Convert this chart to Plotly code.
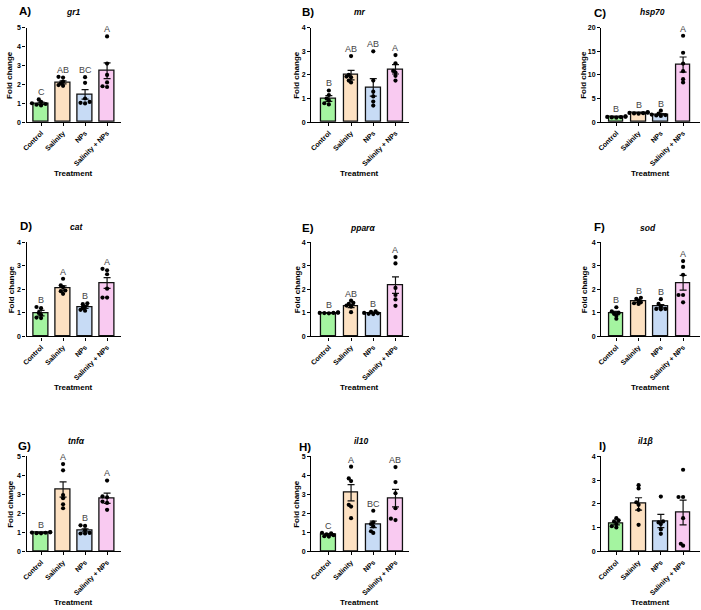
import plotly.graph_objects as go

W, H = 701, 610

categories = ["Control", "Salinity", "NPs", "Salinity + NPs"]
bar_colors = ["#a4f4a0", "#fde1c2", "#c7dbf5", "#f9caf1"]

panel_labels = ["A)", "B)", "C)", "D)", "E)", "F)", "G)", "H)", "I)"]
gene_titles = ["gr1", "mr", "hsp70", "cat", "pparα", "sod", "tnfα", "il10", "il1β"]
y_max = [5, 4, 20, 4, 4, 4, 5, 5, 4]
y_dtick = [1, 1, 5, 1, 1, 1, 1, 1, 1]

# bar means (fold change) per panel, order: Control, Salinity, NPs, Salinity + NPs
means_gr1 = [1.00, 2.11, 1.47, 2.72]
means_mr = [1.00, 1.99, 1.47, 2.24]
means_hsp70 = [1.10, 1.94, 1.66, 12.2]
means_cat = [0.99, 2.04, 1.25, 2.27]
means_ppara = [1.00, 1.29, 1.00, 2.18]
means_sod = [0.99, 1.48, 1.28, 2.28]
means_tnfa = [0.98, 3.26, 1.11, 2.80]
means_il10 = [0.88, 3.09, 1.42, 2.80]
means_il1b = [1.18, 2.00, 1.28, 1.64]

# standard errors
sem_gr1 = [0.06, 0.08, 0.25, 0.42]
sem_mr = [0.12, 0.20, 0.37, 0.20]
sem_hsp70 = [0.05, 0.06, 0.15, 1.60]
sem_cat = [0.12, 0.11, 0.06, 0.23]
sem_ppara = [0.01, 0.07, 0.02, 0.35]
sem_sod = [0.07, 0.04, 0.07, 0.31]
sem_tnfa = [0.02, 0.40, 0.08, 0.27]
sem_il10 = [0.04, 0.43, 0.17, 0.46]
sem_il1b = [0.06, 0.26, 0.28, 0.52]

# individual samples
pts_gr1 = [[1.20, 1.07, 1.00, 0.96, 0.92, 0.88],
           [2.40, 2.36, 2.15, 2.05, 1.96, 1.92],
           [2.38, 2.08, 1.25, 1.07, 1.02, 0.99],
           [4.54, 3.10, 2.50, 2.10, 1.90, 1.86]]
pts_mr = [[1.34, 1.15, 1.00, 0.92, 0.80, 0.75],
          [2.80, 2.00, 1.93, 1.90, 1.76, 1.68],
          [3.00, 1.76, 1.29, 1.09, 0.87, 0.70],
          [2.84, 2.49, 2.17, 2.10, 1.96, 1.76]]
pts_hsp70 = [[1.20, 1.15, 1.10, 1.05, 1.00, 0.95],
             [2.10, 2.00, 1.95, 1.90, 1.85, 1.80],
             [2.42, 1.80, 1.60, 1.50, 1.40, 1.30],
             [18.3, 14.7, 12.4, 10.8, 9.1, 8.4]]
pts_cat = [[1.25, 1.20, 1.00, 0.92, 0.80, 0.78],
           [2.45, 2.17, 2.09, 1.95, 1.92, 1.81],
           [1.41, 1.37, 1.27, 1.20, 1.13, 1.09],
           [2.87, 2.81, 2.64, 2.03, 1.65, 1.65]]
pts_ppara = [[1.02, 1.01, 1.00, 1.00, 0.99, 0.98],
             [1.52, 1.43, 1.38, 1.31, 1.27, 1.03],
             [1.07, 1.04, 1.00, 0.98, 0.96, 0.95],
             [3.37, 3.10, 2.06, 1.76, 1.57, 1.30]]
pts_sod = [[1.24, 1.06, 1.00, 0.96, 0.88, 0.75],
           [1.64, 1.60, 1.52, 1.45, 1.41, 1.38],
           [1.58, 1.38, 1.27, 1.17, 1.17, 1.15],
           [3.20, 2.95, 2.62, 1.76, 1.76, 1.45]]
pts_tnfa = [[1.02, 1.00, 0.99, 0.98, 0.96, 0.95],
            [4.60, 4.27, 2.97, 2.80, 2.48, 2.27],
            [1.37, 1.34, 1.11, 0.97, 0.94, 0.94],
            [3.73, 2.90, 2.85, 2.62, 2.55, 2.19]]
pts_il10 = [[0.98, 0.95, 0.90, 0.85, 0.80, 0.78],
            [4.46, 3.84, 3.70, 2.45, 2.36, 1.75],
            [2.14, 1.53, 1.44, 1.32, 1.06, 0.97],
            [4.44, 3.65, 3.06, 2.27, 1.72, 1.65]]
pts_il1b = [[1.40, 1.31, 1.26, 1.15, 1.06, 1.01],
            [2.79, 2.65, 2.07, 1.96, 1.75, 1.12],
            [2.31, 1.26, 1.22, 1.15, 0.92, 0.74],
            [3.44, 2.29, 2.29, 1.40, 0.32, 0.24]]

# significance letters ("" = none)
letters_gr1 = ["C", "AB", "BC", "A"]
letters_mr = ["B", "AB", "AB", "A"]
letters_hsp70 = ["B", "B", "B", "A"]
letters_cat = ["B", "A", "B", "A"]
letters_ppara = ["B", "AB", "B", "A"]
letters_sod = ["B", "B", "B", "A"]
letters_tnfa = ["B", "A", "B", "A"]
letters_il10 = ["C", "A", "BC", "AB"]
letters_il1b = ["", "", "", ""]

means = [means_gr1, means_mr, means_hsp70, means_cat, means_ppara, means_sod,
         means_tnfa, means_il10, means_il1b]
sems = [sem_gr1, sem_mr, sem_hsp70, sem_cat, sem_ppara, sem_sod,
        sem_tnfa, sem_il10, sem_il1b]
points = [pts_gr1, pts_mr, pts_hsp70, pts_cat, pts_ppara, pts_sod,
          pts_tnfa, pts_il10, pts_il1b]
letters = [letters_gr1, letters_mr, letters_hsp70, letters_cat, letters_ppara,
           letters_sod, letters_tnfa, letters_il10, letters_il1b]
show_ytitle = [True, True, True, True, True, True, True, True, False]

# ---------------- layout geometry (pixels) ----------------
col_x = [(21.7, 117.0, [-0.66, 3.64]),
         (308.3, 406.7, [-0.80, 3.60]),
         (600.5, 700.0, [-0.68, 3.76])]
row_y = [(24.0, 119.5), (241.0, 336.3), (457.7, 553.7)]
ytitle_px = [5, 294, 583, 6, 294, 583, 6, 294, None]
label_px = [(20, 7), (305, 8), (599, 9), (21, 225), (305, 226.5), (598.5, 226),
            (20, 447), (302.5, 448), (601.5, 447)]
title_px = [(68.5, 8.5), (358, 8.5), (652, 8.5), (71.7, 225.5), (359.7, 227),
            (648, 226.5), (71.7, 442), (358.3, 442.5), (645, 442)]

FONT = "Arial, Liberation Sans, sans-serif"


def px_x(p):
    return p / W


def px_y(p):
    return 1 - p / H


def swarm(vals, ymax, px_h, px_w, d=2.8, step=2.3):
    placed = []
    res = [0.0] * len(vals)
    order = sorted(range(len(vals)), key=lambda i: vals[i])
    for i in order:
        dy = vals[i] / ymax * px_h
        for k in [0, -1, 1, -2, 2, -3, 3, -4, 4]:
            dx = k * step
            if all((dx - a) ** 2 + (dy - b) ** 2 >= d * d for a, b in placed):
                break
        placed.append((dx, dy))
        res[i] = dx / px_w
    return res


fig = go.Figure()
annotations = []
layout_axes = {}

for p in range(9):
    r, c = divmod(p, 3)
    xl, xr, xrng = col_x[c]
    yt, yb = row_y[r]
    n = p + 1
    xa = "x" if n == 1 else f"x{n}"
    ya = "y" if n == 1 else f"y{n}"
    px_w = (xr - xl) / (xrng[1] - xrng[0])
    px_h = yb - yt

    fig.add_trace(go.Bar(
        x=list(range(4)), y=means[p], width=0.66,
        marker=dict(color=bar_colors, line=dict(color="#111111", width=1.3)),
        error_y=dict(type="data", array=sems[p], arrayminus=sems[p], symmetric=False,
                     color="#111", thickness=1.2, width=3.5),
        xaxis=xa, yaxis=ya, showlegend=False, cliponaxis=False))

    xs, ys = [], []
    for g in range(4):
        offs = swarm(points[p][g], y_max[p], px_h, px_w)
        for v, o in zip(points[p][g], offs):
            xs.append(g + o)
            ys.append(v)
    fig.add_trace(go.Scatter(
        x=xs, y=ys, mode="markers",
        marker=dict(color="black", size=4.2, line=dict(width=0)),
        xaxis=xa, yaxis=ya, showlegend=False, cliponaxis=False))

    # letters
    for g in range(4):
        if letters[p][g]:
            top = max(max(points[p][g]), means[p][g] + sems[p][g])
            annotations.append(dict(
                x=g, y=top + 0.075 * y_max[p], xref=xa, yref=ya,
                text=letters[p][g], showarrow=False, yanchor="middle",
                font=dict(family=FONT, size=9, color="#444")))

    axname_x = "xaxis" if n == 1 else f"xaxis{n}"
    axname_y = "yaxis" if n == 1 else f"yaxis{n}"
    layout_axes[axname_x] = dict(
        domain=[px_x(xl), px_x(xr)], range=xrng, anchor=ya,
        tickmode="array", tickvals=list(range(4)), ticktext=categories,
        tickangle=-45, ticks="outside", ticklen=3, tickwidth=1.2, tickcolor="black",
        tickfont=dict(family=FONT, size=7, color="black", weight="bold"),
        showline=True, linecolor="black", linewidth=1.3,
        showgrid=False, zeroline=False, fixedrange=True)
    layout_axes[axname_y] = dict(
        domain=[px_y(yb), px_y(yt)], range=[0, y_max[p]], anchor=xa,
        dtick=y_dtick[p], tick0=0, ticks="outside", ticklen=3, tickwidth=1.2,
        tickcolor="black",
        tickfont=dict(family=FONT, size=7, color="black", weight="bold"),
        showline=True, linecolor="black", linewidth=1.3,
        showgrid=False, zeroline=False, fixedrange=True)

    # panel label
    lx, ly = label_px[p]
    annotations.append(dict(x=px_x(lx), y=px_y(ly), xref="paper", yref="paper",
                            text=f"<b>{panel_labels[p]}</b>", showarrow=False,
                            xanchor="center", yanchor="middle",
                            font=dict(family=FONT, size=11.5, color="black")))
    tx, ty = title_px[p]
    annotations.append(dict(x=px_x(tx), y=px_y(ty), xref="paper", yref="paper",
                            text=f"<b><i>{gene_titles[p]}</i></b>", showarrow=False,
                            xanchor="center", yanchor="middle",
                            font=dict(family=FONT, size=8.5, color="black")))
    # axis titles
    if show_ytitle[p]:
        annotations.append(dict(x=px_x(ytitle_px[p]), y=px_y((yt + yb) / 2),
                                xref="paper", yref="paper", text="<b>Fold change</b>",
                                textangle=-90, showarrow=False,
                                xanchor="center", yanchor="middle",
                                font=dict(family=FONT, size=8, color="black")))
    annotations.append(dict(x=px_x((xl + xr) / 2), y=px_y(yb + 52), xref="paper",
                            yref="paper", text="<b>Treatment</b>", showarrow=False,
                            xanchor="center", yanchor="middle",
                            font=dict(family=FONT, size=8, color="black")))

fig.update_layout(
    width=W, height=H, margin=dict(l=0, r=0, t=0, b=0),
    paper_bgcolor="white", plot_bgcolor="white",
    showlegend=False, bargap=0, annotations=annotations, **layout_axes)

fig.write_html("out.html", config={"displayModeBar": False})
